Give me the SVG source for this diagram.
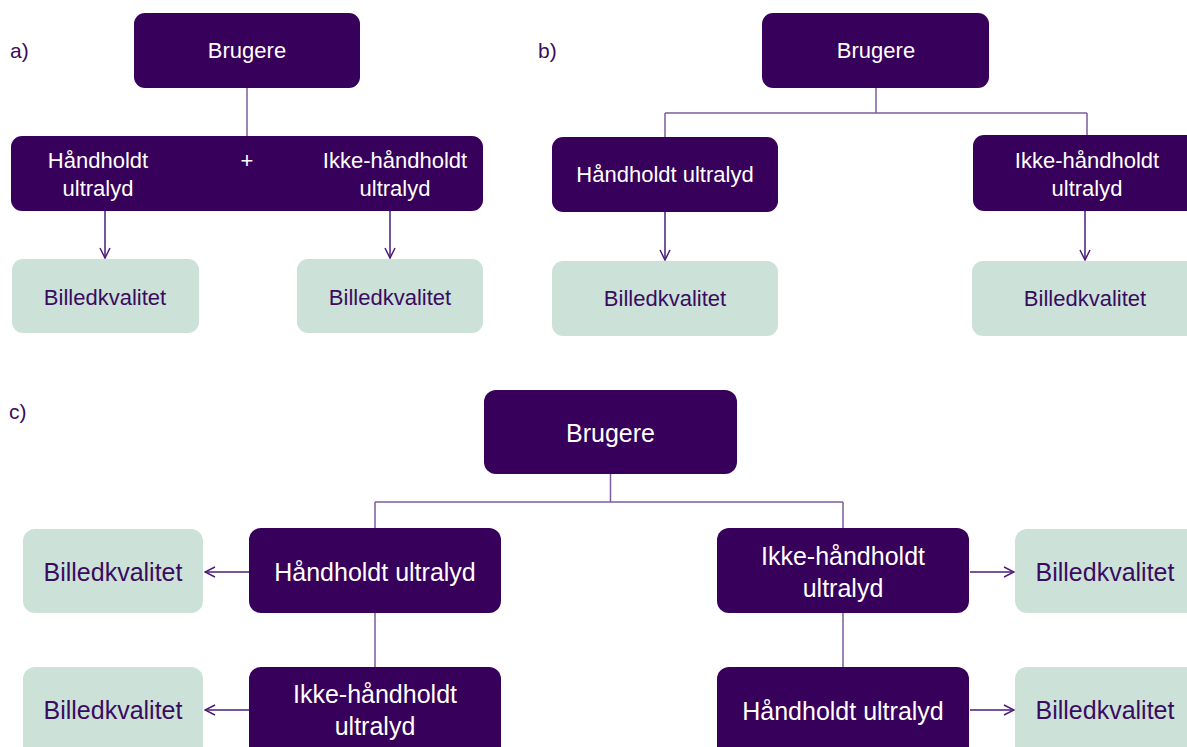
<svg xmlns="http://www.w3.org/2000/svg" width="1187" height="747" viewBox="0 0 1187 747">
<defs>
<style>
.dk{fill:#37005a}
.lt{fill:#cce2d8}
.wt{fill:#ffffff;font-family:"Liberation Sans",Arial,sans-serif;text-anchor:middle}
.pt{fill:#3a0b60;font-family:"Liberation Sans",Arial,sans-serif;text-anchor:middle}
.lbl{fill:#3a0b60;font-family:"Liberation Sans",Arial,sans-serif;font-size:21px}
.s{font-size:22px}
.m{font-size:25px}
.tree{stroke:#7d5c9e;stroke-width:1.5;fill:none}
.arr{stroke:#4a1c78;stroke-width:1.5;fill:none}
</style>
<marker id="ah" viewBox="0 0 12 12" refX="11" refY="6" markerWidth="12" markerHeight="12" markerUnits="userSpaceOnUse" orient="auto">
<path d="M1,1 L11,6 L1,11" fill="none" stroke="#4a1c78" stroke-width="1.5"/>
</marker>
</defs>
<rect width="1187" height="747" fill="#ffffff"/>

<text class="lbl" x="10" y="58">a)</text>
<text class="lbl" x="538" y="58">b)</text>
<text class="lbl" x="9" y="419">c)</text>

<g id="connectors">
<path class="tree" d="M247,88 V136"/>
<path class="arr" d="M105,211 V258" marker-end="url(#ah)"/>
<path class="arr" d="M390,211 V258" marker-end="url(#ah)"/>
<path class="tree" d="M876,88 V113 M665,113 H1087 M665,113 V137 M1087,113 V135"/>
<path class="arr" d="M665,212 V260" marker-end="url(#ah)"/>
<path class="arr" d="M1085,211 V260" marker-end="url(#ah)"/>
<path class="tree" d="M610.5,474 V502 M375,502 H843 M375,502 V528 M843,502 V528"/>
<path class="tree" d="M375,613 V667 M843,613 V667"/>
<path class="arr" d="M249,572 H205" marker-end="url(#ah)"/>
<path class="arr" d="M249,710 H205" marker-end="url(#ah)"/>
<path class="arr" d="M970,572 H1014" marker-end="url(#ah)"/>
<path class="arr" d="M970,710 H1014" marker-end="url(#ah)"/>
</g>

<g id="a-brugere"><rect class="dk" x="134" y="13" width="226" height="75" rx="11"/><text class="wt s" x="247" y="58">Brugere</text></g>
<g id="a-combined"><rect class="dk" x="11" y="136" width="472" height="75" rx="11"/>
<text class="wt s" x="98" y="168">Håndholdt</text><text class="wt s" x="98" y="196">ultralyd</text>
<text class="wt s" x="247" y="168">+</text>
<text class="wt s" x="395" y="168">Ikke-håndholdt</text><text class="wt s" x="395" y="196">ultralyd</text></g>
<g id="a-bk1"><rect class="lt" x="12" y="259" width="187" height="74" rx="11"/><text class="pt s" x="105" y="305">Billedkvalitet</text></g>
<g id="a-bk2"><rect class="lt" x="297" y="259" width="186" height="74" rx="11"/><text class="pt s" x="390" y="305">Billedkvalitet</text></g>

<g id="b-brugere"><rect class="dk" x="762" y="13" width="227" height="75" rx="11"/><text class="wt s" x="876" y="58">Brugere</text></g>
<g id="b-hand"><rect class="dk" x="552" y="137" width="226" height="75" rx="11"/><text class="wt s" x="665" y="182">Håndholdt ultralyd</text></g>
<g id="b-ikke"><rect class="dk" x="973" y="135" width="228" height="76" rx="11"/><text class="wt s" x="1087" y="168">Ikke-håndholdt</text><text class="wt s" x="1087" y="196">ultralyd</text></g>
<g id="b-bk1"><rect class="lt" x="552" y="261" width="226" height="75" rx="11"/><text class="pt s" x="665" y="306">Billedkvalitet</text></g>
<g id="b-bk2"><rect class="lt" x="972" y="261" width="229" height="75" rx="11"/><text class="pt s" x="1085" y="306">Billedkvalitet</text></g>

<g id="c-brugere"><rect class="dk" x="484" y="390" width="253" height="84" rx="12"/><text class="wt m" x="610.5" y="442">Brugere</text></g>
<g id="c-hand1"><rect class="dk" x="249" y="528" width="252" height="85" rx="12"/><text class="wt m" x="375" y="581">Håndholdt ultralyd</text></g>
<g id="c-ikke2"><rect class="dk" x="249" y="667" width="252" height="95" rx="12"/><text class="wt m" x="375" y="703">Ikke-håndholdt</text><text class="wt m" x="375" y="735">ultralyd</text></g>
<g id="c-ikke1"><rect class="dk" x="717" y="528" width="252" height="85" rx="12"/><text class="wt m" x="843" y="565">Ikke-håndholdt</text><text class="wt m" x="843" y="597">ultralyd</text></g>
<g id="c-hand2"><rect class="dk" x="717" y="667" width="252" height="95" rx="12"/><text class="wt m" x="843" y="720">Håndholdt ultralyd</text></g>
<g id="c-bk1"><rect class="lt" x="23" y="529" width="180" height="84" rx="12"/><text class="pt m" x="113" y="581">Billedkvalitet</text></g>
<g id="c-bk2"><rect class="lt" x="23" y="667" width="180" height="95" rx="12"/><text class="pt m" x="113" y="719">Billedkvalitet</text></g>
<g id="c-bk3"><rect class="lt" x="1015" y="529" width="190" height="84" rx="12"/><text class="pt m" x="1105" y="581">Billedkvalitet</text></g>
<g id="c-bk4"><rect class="lt" x="1015" y="667" width="190" height="95" rx="12"/><text class="pt m" x="1105" y="719">Billedkvalitet</text></g>
</svg>
